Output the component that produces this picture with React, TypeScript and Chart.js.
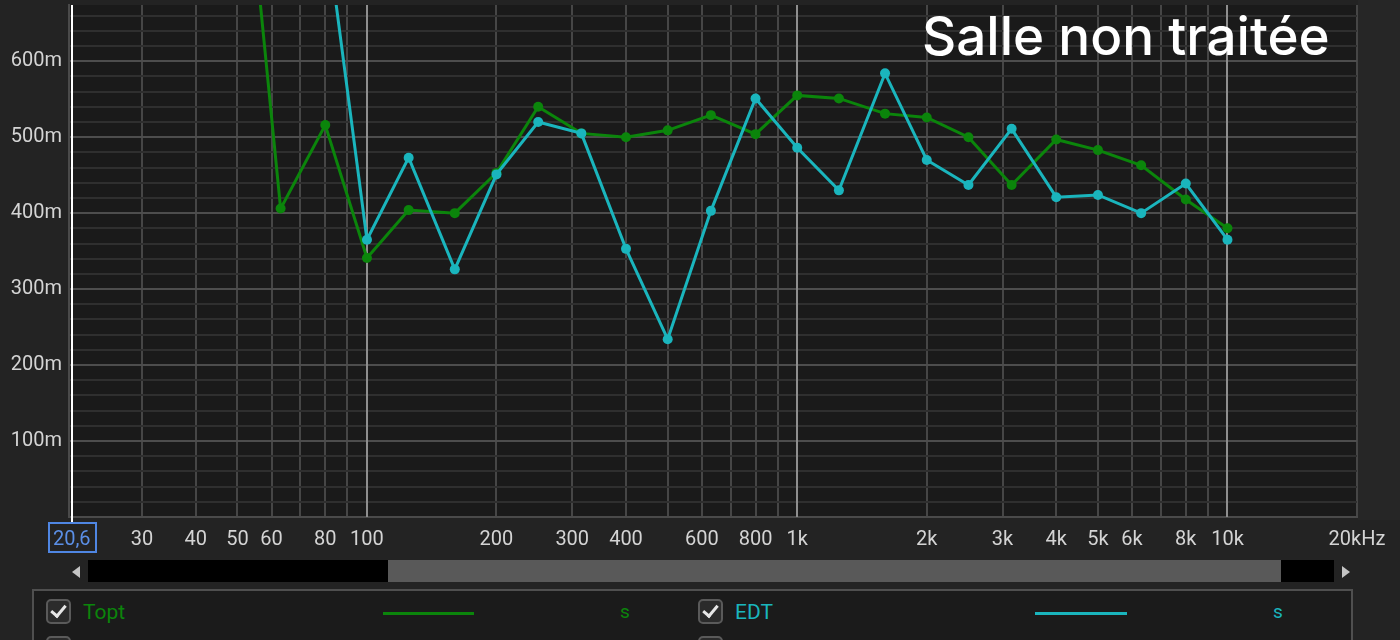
import React, { useEffect, useRef } from "react";
import { Chart, registerables } from "chart.js";

Chart.register(...registerables);

// ---- Data ----
const frequencies = [50, 63, 80, 100, 125, 160, 200, 250, 315, 400, 500, 630, 800, 1000, 1250, 1600, 2000, 2500, 3150, 4000, 5000, 6300, 8000, 10000];
const toptValues = [0.98, 0.406, 0.516, 0.341, 0.404, 0.4, 0.453, 0.54, 0.505, 0.5, 0.509, 0.529, 0.504, 0.555, 0.551, 0.531, 0.526, 0.5, 0.437, 0.497, 0.483, 0.463, 0.418, 0.38];
const edtValues = [1.1, 0.95, 0.784, 0.365, 0.473, 0.326, 0.451, 0.52, 0.505, 0.353, 0.234, 0.403, 0.551, 0.486, 0.43, 0.584, 0.47, 0.437, 0.511, 0.421, 0.424, 0.4, 0.439, 0.365];

const xTickValues = [20.6, 30, 40, 50, 60, 70, 80, 90, 100, 200, 300, 400, 500, 600, 700, 800, 900, 1000, 2000, 3000, 4000, 5000, 6000, 7000, 8000, 9000, 10000, 20000];
const xTickLabels = ["20,6", "30", "40", "50", "60", "", "80", "", "100", "200", "300", "400", "", "600", "", "800", "", "1k", "2k", "3k", "4k", "5k", "6k", "", "8k", "", "10k", "20kHz"];
const decadeLines = [100, 1000, 10000];
const cursorFrequency = 20.6;

const yTickValues = [0, 0.02, 0.04, 0.06, 0.08, 0.1, 0.12, 0.14, 0.16, 0.18, 0.2, 0.22, 0.24, 0.26, 0.28, 0.3, 0.32, 0.34, 0.36, 0.38, 0.4, 0.42, 0.44, 0.46, 0.48, 0.5, 0.52, 0.54, 0.56, 0.58, 0.6, 0.62, 0.64, 0.66];
const yMajorValues = [0.1, 0.2, 0.3, 0.4, 0.5, 0.6];
const yMajorLabels = ["100m", "200m", "300m", "400m", "500m", "600m"];

const xMin = 20.3;
const xMax = 20000;
const yMin = 0;
const yMax = 0.674;

const titleText = "Salle non traitée";
const seriesNames = ["Topt", "EDT"];
const seriesUnit = "s";

const GREEN = "#0b850b";
const CYAN = "#1ab5bd";

const isMajorY = (v: number) => yMajorValues.some((m) => Math.abs(m - v) < 1e-6);

function CheckBox({ left, top }: { left: number; top: number }) {
  return (
    <div
      style={{
        position: "absolute",
        left,
        top,
        width: 21,
        height: 21,
        border: "2px solid #5a5a5a",
        borderRadius: 5,
        background: "#2b2b2b",
      }}
    >
      <div
        style={{
          position: "absolute",
          left: 6,
          top: 1,
          width: 6,
          height: 12,
          borderRight: "3px solid #e6e6e6",
          borderBottom: "3px solid #e6e6e6",
          transform: "rotate(40deg)",
        }}
      />
    </div>
  );
}

export default function App() {
  const canvasRef = useRef<HTMLCanvasElement>(null);

  useEffect(() => {
    const canvas = canvasRef.current;
    if (!canvas) return;

    const plotBg = {
      id: "plotBg",
      beforeDraw(chart: any) {
        const { ctx, chartArea: a } = chart;
        ctx.save();
        ctx.fillStyle = "#1a1a1a";
        ctx.fillRect(a.left, a.top, a.right - a.left, a.bottom - a.top);
        ctx.restore();
      },
    };

    const strongLines = {
      id: "strongLines",
      beforeDatasetsDraw(chart: any) {
        const { ctx, chartArea: a } = chart;
        const xs = chart.scales.x;
        ctx.save();
        ctx.lineWidth = 2;
        ctx.strokeStyle = "#8e8e8e";
        decadeLines.forEach((v) => {
          const x = Math.round(xs.getPixelForValue(v));
          ctx.beginPath();
          ctx.moveTo(x, a.top);
          ctx.lineTo(x, a.bottom);
          ctx.stroke();
        });
        const cx = Math.round(xs.getPixelForValue(cursorFrequency));
        ctx.strokeStyle = "#ffffff";
        ctx.beginPath();
        ctx.moveTo(cx, a.top);
        ctx.lineTo(cx, a.bottom + 6);
        ctx.stroke();
        ctx.restore();
      },
      afterDraw(chart: any) {
        const { ctx, chartArea: a } = chart;
        const x = Math.round(chart.scales.x.getPixelForValue(cursorFrequency));
        ctx.save();
        ctx.lineWidth = 2;
        ctx.strokeStyle = "#4f86e3";
        ctx.strokeRect(x - 23, a.bottom + 6, 47, 29);
        ctx.restore();
      },
    };

    const chart = new Chart(canvas, {
      type: "line",
      data: {
        datasets: [
          {
            label: seriesNames[1],
            data: frequencies.map((f, i) => ({ x: f, y: edtValues[i] })),
            borderColor: CYAN,
            backgroundColor: CYAN,
            pointBackgroundColor: CYAN,
            pointBorderColor: CYAN,
            pointRadius: 5,
            pointBorderWidth: 0,
            borderWidth: 3,
            tension: 0,
          },
          {
            label: seriesNames[0],
            data: frequencies.map((f, i) => ({ x: f, y: toptValues[i] })),
            borderColor: GREEN,
            backgroundColor: GREEN,
            pointBackgroundColor: GREEN,
            pointBorderColor: GREEN,
            pointRadius: 5,
            pointBorderWidth: 0,
            borderWidth: 3,
            tension: 0,
          },
        ],
      },
      options: {
        animation: false,
        responsive: false,
        devicePixelRatio: 1,
        layout: { padding: { left: 0, right: 43, top: 0, bottom: 0 } },
        plugins: { legend: { display: false }, tooltip: { enabled: false } },
        scales: {
          x: {
            type: "logarithmic",
            min: xMin,
            max: xMax,
            afterBuildTicks: (s: any) => {
              s.ticks = xTickValues.map((v) => ({ value: v }));
            },
            afterFit: (s: any) => {
              s.height = 43;
              s.paddingLeft = 0;
              s.paddingRight = 0;
            },
            grid: {
              drawTicks: false,
              lineWidth: 2,
              color: (ctx: any) => {
                const v = ctx.tick ? ctx.tick.value : 0;
                if (v === cursorFrequency) return "rgba(0,0,0,0)";
                return "#464646";
              },
            },
            border: { color: "#4a4a4a", width: 2 },
            ticks: {
              autoSkip: false,
              maxRotation: 0,
              minRotation: 0,
              padding: 11,
              font: { family: "Roboto", size: 20 },
              color: (ctx: any) => (ctx.tick && ctx.tick.value === cursorFrequency ? "#5b8fe6" : "#d4d4d4"),
              callback: (value: any) => {
                const k = xTickValues.indexOf(Number(value));
                return k >= 0 ? xTickLabels[k] : "";
              },
            },
          },
          y: {
            type: "linear",
            min: yMin,
            max: yMax,
            afterBuildTicks: (s: any) => {
              s.ticks = yTickValues.map((v) => ({ value: v }));
            },
            afterFit: (s: any) => {
              s.width = 69;
              s.paddingTop = 0;
              s.paddingBottom = 0;
            },
            grid: {
              drawTicks: false,
              lineWidth: 2,
              color: (ctx: any) => (ctx.tick && isMajorY(ctx.tick.value) ? "#4d4d4d" : "#2f2f2f"),
            },
            border: { color: "#4a4a4a", width: 2 },
            ticks: {
              autoSkip: false,
              padding: 7,
              font: { family: "Roboto", size: 20 },
              color: "#d4d4d4",
              callback: (value: any) => {
                const k = yMajorValues.findIndex((m) => Math.abs(m - Number(value)) < 1e-6);
                return k >= 0 ? yMajorLabels[k] : "";
              },
            },
          },
        },
      } as any,
      plugins: [plotBg, strongLines],
    });

    return () => chart.destroy();
  }, []);

  return (
    <div
      style={{
        position: "fixed",
        left: 0,
        top: 0,
        width: 1400,
        height: 640,
        overflow: "hidden",
        background: "#232323",
        fontFamily: "Roboto, 'Noto Sans', sans-serif",
      }}
    >
      <canvas
        ref={canvasRef}
        width={1400}
        height={560}
        style={{ position: "absolute", left: 0, top: 0, width: 1400, height: 560 }}
      />
      {/* right side strip */}
      <div style={{ position: "absolute", left: 1358, top: 0, width: 42, height: 520, background: "#262626" }} />
      {/* title */}
      <div
        style={{
          position: "absolute",
          left: 922,
          top: 10,
          fontFamily: "Inter, 'Noto Sans', sans-serif",
          fontWeight: 500,
          fontSize: 53,
          lineHeight: "53px",
          color: "#ffffff",
          whiteSpace: "nowrap",
        }}
      >
        {titleText}
      </div>
      {/* scrollbar */}
      <div
        style={{
          position: "absolute",
          left: 72,
          top: 566,
          width: 0,
          height: 0,
          borderTop: "6px solid transparent",
          borderBottom: "6px solid transparent",
          borderRight: "8px solid #c4c4c4",
        }}
      />
      <div style={{ position: "absolute", left: 88, top: 560, width: 1246, height: 22, background: "#000" }} />
      <div style={{ position: "absolute", left: 388, top: 560, width: 893, height: 22, background: "#595959" }} />
      <div
        style={{
          position: "absolute",
          left: 1342,
          top: 566,
          width: 0,
          height: 0,
          borderTop: "6px solid transparent",
          borderBottom: "6px solid transparent",
          borderLeft: "8px solid #c4c4c4",
        }}
      />
      {/* legend panel */}
      <div
        style={{
          position: "absolute",
          left: 32,
          top: 589,
          width: 1317,
          height: 80,
          border: "2px solid #4f4f4f",
          background: "#1b1b1b",
        }}
      />
      <CheckBox left={46} top={599} />
      <div style={{ position: "absolute", left: 83, top: 599, fontSize: 21, lineHeight: "26px", color: GREEN }}>{seriesNames[0]}</div>
      <div style={{ position: "absolute", left: 383, top: 612, width: 91, height: 3, background: GREEN }} />
      <div style={{ position: "absolute", left: 620, top: 599, fontSize: 19, lineHeight: "26px", color: GREEN }}>{seriesUnit}</div>

      <CheckBox left={698} top={599} />
      <div style={{ position: "absolute", left: 735, top: 599, fontSize: 21, lineHeight: "26px", color: CYAN }}>{seriesNames[1]}</div>
      <div style={{ position: "absolute", left: 1035, top: 612, width: 92, height: 3, background: CYAN }} />
      <div style={{ position: "absolute", left: 1273, top: 599, fontSize: 19, lineHeight: "26px", color: CYAN }}>{seriesUnit}</div>

      <CheckBox left={46} top={636} />
      <CheckBox left={698} top={636} />
    </div>
  );
}
